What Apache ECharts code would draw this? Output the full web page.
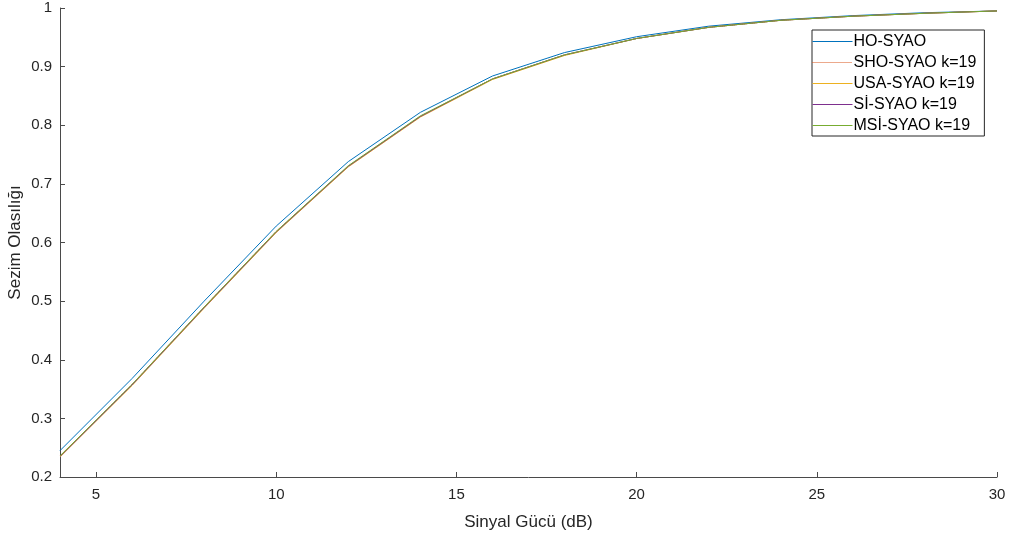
<!DOCTYPE html>
<html>
<head>
<meta charset="utf-8">
<title>Sezim Olasılığı</title>
<script src="https://cdn.jsdelivr.net/npm/echarts@6/dist/echarts.min.js"></script>
<style>
  html, body { margin: 0; padding: 0; background: #fff; }
  #chart { width: 1011px; height: 540px; }
</style>
</head>
<body>
<div id="chart"></div>
<script>
// Signal power (dB) sample points
const snrDb = [4, 6, 8, 10, 12, 14, 16, 18, 20, 22, 24, 26, 28, 30];

// Detection probability for each detector
const hoSyao  = [0.245, 0.368, 0.500, 0.628, 0.738, 0.822, 0.884, 0.924, 0.951, 0.969, 0.980, 0.987, 0.992, 0.995];
const shoSyao = [0.236, 0.358, 0.490, 0.619, 0.730, 0.815, 0.879, 0.920, 0.948, 0.967, 0.979, 0.986, 0.991, 0.995];
const usaSyao = [0.234, 0.356, 0.488, 0.617, 0.729, 0.814, 0.878, 0.919, 0.948, 0.967, 0.979, 0.986, 0.991, 0.995];
const siSyao  = [0.235, 0.357, 0.489, 0.618, 0.730, 0.815, 0.879, 0.920, 0.948, 0.967, 0.979, 0.986, 0.991, 0.995];
const msiSyao = [0.236, 0.358, 0.490, 0.619, 0.731, 0.816, 0.879, 0.920, 0.948, 0.967, 0.979, 0.986, 0.991, 0.995];

const seriesNames = ['HO-SYAO', 'SHO-SYAO k=19', 'USA-SYAO k=19', 'Sİ-SYAO k=19', 'MSİ-SYAO k=19'];
const seriesValues = [hoSyao, shoSyao, usaSyao, siSyao, msiSyao];
const seriesColors = ['#0072BD', '#D95319', '#EDB120', '#7E2F8E', '#77AC30'];
const seriesDash = ['solid', 'dotted', 'solid', 'solid', 'solid'];

const xTicks = [5, 10, 15, 20, 25, 30];

const FONT = '"Liberation Sans", Arial, Helvetica, sans-serif';
const AXIS_COLOR = '#4a4a4a';
const TEXT_COLOR = '#262626';

const chart = echarts.init(document.getElementById('chart'), null, { renderer: 'canvas' });

const series = seriesNames.map((name, i) => ({
  name: name,
  type: 'line',
  data: snrDb.map((x, j) => [x, seriesValues[i][j]]),
  symbol: 'none',
  smooth: false,
  animation: false,
  lineStyle: { color: seriesColors[i], width: 1, type: seriesDash[i] },
  itemStyle: { color: seriesColors[i] },
  z: 2 + i
}));

// Legend entries: a thin line sample in each series' own colour and dash
const legendItems = seriesNames.map((name, i) => ({
  name: name,
  itemStyle: { opacity: 0 },
  lineStyle: { color: seriesColors[i], width: 1, type: seriesDash[i] }
}));

chart.setOption({
  animation: false,
  backgroundColor: '#ffffff',
  textStyle: { fontFamily: FONT },
  grid: { left: 60, right: 14, top: 8, bottom: 63, containLabel: false, outerBoundsMode: 'none' },
  legend: {
    orient: 'vertical',
    left: 812,
    top: 30,
    data: legendItems,
    backgroundColor: '#ffffff',
    borderColor: '#262626',
    borderWidth: 1,
    borderRadius: 0,
    padding: [3, 8, 2, 0],
    itemWidth: 40,
    itemHeight: 15,
    itemGap: 4,
    textStyle: { fontFamily: FONT, fontSize: 16, lineHeight: 17, color: '#000', padding: [0, 0, 0, -4] }
  },
  xAxis: {
    type: 'value',
    min: 4,
    max: 30,
    name: 'Sinyal Gücü (dB)',
    nameLocation: 'middle',
    nameGap: 37,
    nameMoveOverlap: false,
    nameTextStyle: { fontFamily: FONT, fontSize: 17, color: TEXT_COLOR },
    axisLine: { show: true, lineStyle: { color: AXIS_COLOR, width: 1 } },
    axisTick: { show: true, inside: true, length: 5, lineStyle: { color: AXIS_COLOR }, customValues: xTicks },
    axisLabel: { fontFamily: FONT, fontSize: 15, color: TEXT_COLOR, margin: 10, customValues: xTicks },
    splitLine: { show: false }
  },
  yAxis: {
    type: 'value',
    min: 0.2,
    max: 1,
    interval: 0.1,
    name: 'Sezim Olasılığı',
    nameLocation: 'middle',
    nameGap: 36,
    nameMoveOverlap: false,
    nameTextStyle: { fontFamily: FONT, fontSize: 17, color: TEXT_COLOR },
    axisLine: { show: true, lineStyle: { color: AXIS_COLOR, width: 1 } },
    axisTick: { show: true, inside: true, length: 5, lineStyle: { color: AXIS_COLOR } },
    axisLabel: {
      fontFamily: FONT, fontSize: 15, color: TEXT_COLOR, margin: 8,
      formatter: v => String(Math.round(v * 10) / 10)
    },
    splitLine: { show: false }
  },
  series: series
});
</script>
</body>
</html>
